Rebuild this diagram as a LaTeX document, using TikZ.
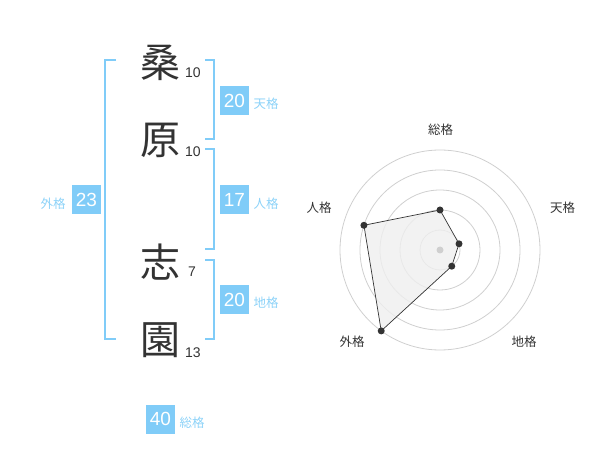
\documentclass[tikz,border=0pt]{standalone}
\usepackage{fontspec}
\setmainfont{Liberation Sans}
\newfontfamily\jp{Noto Sans CJK JP}
\definecolor{kaku}{HTML}{80CCF8}
\definecolor{kakutext}{HTML}{8CD2F8}
\definecolor{ink}{HTML}{333333}
\definecolor{ringgray}{HTML}{CFCFCF}
\definecolor{polyfill}{HTML}{EFEFEF}

\begin{document}
\begin{tikzpicture}[x=1pt,y=-1pt,
    kanji/.style={text=ink, font=\jp\fontsize{40}{40}\selectfont, inner sep=0pt},
    strokes/.style={text=ink, font=\fontsize{14}{14}\selectfont, inner sep=0pt, anchor=west},
    score/.style={fill=kaku, text=white, font=\fontsize{19}{19}\selectfont, minimum size=29pt, inner sep=0pt},
    kakuname/.style={text=kakutext, font=\jp\fontsize{12.5}{12.5}\selectfont, inner sep=0pt},
    bracket/.style={draw=kaku, line width=2pt},
    ringline/.style={draw=ringgray, line width=0.8pt},
    axisname/.style={text=ink, font=\jp\fontsize{12.5}{12.5}\selectfont, inner sep=0pt},
    dot/.style={circle, fill=ink, inner sep=0pt, minimum size=7pt}]

        \useasboundingbox (0,0) rectangle (600,470);

        \node[kanji] (k1) at (160, 63) {桑};
        \node[kanji] (k2) at (160, 140) {原};
        \node[kanji] (k3) at (160, 262) {志};
        \node[kanji] (k4) at (160, 340) {園};

        \node[strokes] (s1) at (185, 73) {10};
        \node[strokes] (s2) at (185, 152) {10};
        \node[strokes] (s3) at (188, 272) {7};
        \node[strokes] (s4) at (185, 353) {13};

        \draw[bracket] (116, 60) -| (105, 339) -- (116, 339);
        \draw[bracket] (205, 60) -| (214, 139) -- (205, 139);
        \draw[bracket] (205, 149) -| (214, 249) -- (205, 249);
        \draw[bracket] (205, 260) -| (214, 339) -- (205, 339);

        \node[score] (ten) at (234.5, 100.5) {20};
        \node[kakuname] (tenname) at (266, 104) {天格};
        \node[score] (jin) at (234.5, 200) {17};
        \node[kakuname] (jinname) at (266, 204) {人格};
        \node[score] (chi) at (234.5, 300) {20};
        \node[kakuname] (chiname) at (266, 303) {地格};
        \node[score] (gai) at (86.5, 200) {23};
        \node[kakuname] (gainame) at (53, 204) {外格};
        \node[score] (sou) at (160.5, 419) {40};
        \node[kakuname] (souname) at (192, 423) {総格};

        \coordinate (mid) at (440, 250);
        \foreach \r in {20,40,60,80,100}
            \draw[ringline] (mid) circle (\r pt);

        \coordinate (psou) at ([shift={(90:40pt)}]mid);
        \coordinate (pten) at ([shift={(18:20pt)}]mid);
        \coordinate (pchi) at ([shift={(-54:20pt)}]mid);
        \coordinate (pgai) at ([shift={(234:100pt)}]mid);
        \coordinate (pjin) at ([shift={(162:80pt)}]mid);

        \path[draw=ink, fill=polyfill, fill opacity=0.8, line width=0.7pt]
        (psou) -- (pten) -- (pchi) -- (pgai) -- (pjin) -- cycle;

        \fill[ringgray] (mid) circle (3.5pt);

        \foreach \p in {psou,pten,pchi,pgai,pjin}
            \node[dot] at (\p) {};

        \node[axisname] (asou) at (440.5, 130) {総格};
        \node[axisname] (aten) at (562.5, 208) {天格};
        \node[axisname] (achi) at (524, 342) {地格};
        \node[axisname] (agai) at (352, 342) {外格};
        \node[axisname] (ajin) at (319, 208) {人格};

    \end{tikzpicture}
\end{document}
